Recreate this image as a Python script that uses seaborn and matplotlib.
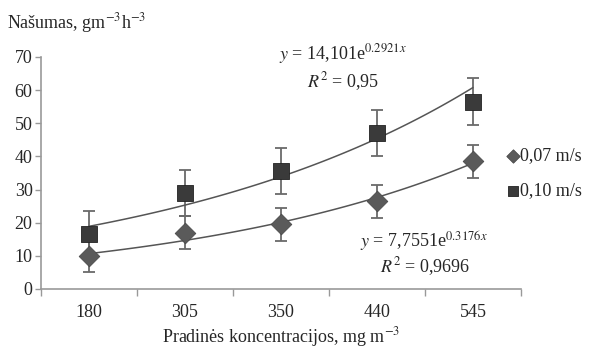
import numpy as np
import pandas as pd
import matplotlib
matplotlib.use("Agg")
import matplotlib.pyplot as plt
import seaborn as sns

# --- data ---
concentrations = ["180", "305", "350", "440", "545"]
v007 = [10.0, 17.0, 19.5, 26.5, 38.5]
v007_err = [5.0, 5.0, 5.0, 5.0, 5.0]
v010 = [16.5, 29.0, 35.5, 47.0, 56.5]
v010_err = [7.0, 7.0, 7.0, 7.0, 7.0]
# exponential trend coefficients (from chart labels)
trend007 = (7.7551, 0.3176)
trend010 = (14.101, 0.2921)

sns.set_theme(style="white")
plt.rcParams["font.family"] = ["Liberation Serif", "DejaVu Serif"]
plt.rcParams["mathtext.fontset"] = "stix"

pos = np.arange(1, len(concentrations) + 1)
df = pd.DataFrame({
    "pos": np.concatenate([pos, pos]),
    "val": v007 + v010,
    "err": v007_err + v010_err,
    "serie": ["0,07 m/s"] * 5 + ["0,10 m/s"] * 5,
})

fig = plt.figure(figsize=(5.92, 3.49), dpi=100)
ax = fig.add_axes([0.069, 0.172, 0.811, 0.665])

# error bars
for s in ["0,07 m/s", "0,10 m/s"]:
    d = df[df.serie == s]
    ax.errorbar(d.pos, d.val, yerr=d.err, fmt="none", ecolor="#6a6a6a",
                elinewidth=1.3, capsize=4.5, capthick=1.3, zorder=2)

# trend lines
xt = np.linspace(1, 5, 100)
for (a, b) in [trend007, trend010]:
    sns.lineplot(x=xt, y=a * np.exp(b * xt), ax=ax, color="#555555",
                 lw=1.1, zorder=3, legend=False)

d7 = df[df.serie == "0,07 m/s"]
d10 = df[df.serie == "0,10 m/s"]
sns.scatterplot(x=d7.pos, y=d7.val, ax=ax, marker="D", s=110, color="#5a5a5a",
                edgecolor="#4a4a4a", linewidth=0.6, zorder=4, label="0,07 m/s")
sns.scatterplot(x=d10.pos, y=d10.val, ax=ax, marker="s", s=140, color="#3a3a3a",
                edgecolor="#222222", linewidth=0.6, zorder=4, label="0,10 m/s")

ax.set_xlim(0.5, 5.5)
ax.set_ylim(0, 70)
ax.set_yticks(range(0, 71, 10))
ax.set_xticks(np.arange(0.5, 5.6, 1.0))
ax.set_xticklabels([])
ax.set_xticks(pos, minor=True)
ax.set_xticklabels(concentrations, minor=True)
ax.tick_params(axis="x", which="major", direction="out", length=5, color="#999999",
               bottom=True, width=1)
ax.tick_params(axis="x", which="minor", length=0, pad=11, labelsize=13)
ax.tick_params(axis="y", direction="out", length=4, color="#999999", left=True,
               width=1, labelsize=13, pad=2)
for sp in ["top", "right"]:
    ax.spines[sp].set_visible(False)
for sp in ["left", "bottom"]:
    ax.spines[sp].set_color("#999999")
    ax.spines[sp].set_linewidth(1.2)
ax.set_xlabel("")
ax.set_ylabel("")

fig.text(0.475, 0.018, "Pradinės koncentracijos, mg m$^{-3}$", ha="center",
         va="baseline", fontsize=13)
fig.text(0.012, 0.935, "Našumas, gm$^{-3}$h$^{-3}$", ha="left", va="center",
         fontsize=13)

ax.text(3.64, 71.0, r"$y$ = 14,101e$^{0.2921x}$", ha="center", va="center",
        fontsize=13, clip_on=False)
ax.text(3.65, 62.5, r"$R^2$ = 0,95", ha="center", va="center", fontsize=13)
ax.text(4.49, 14.2, r"$y$ = 7,7551e$^{0.3176x}$", ha="center", va="center", fontsize=13)
ax.text(4.5, 6.6, r"$R^2$ = 0,9696", ha="center", va="center", fontsize=13)

ax.legend(loc="center left", bbox_to_anchor=(0.845, 0.503), bbox_transform=fig.transFigure,
          frameon=False, handlelength=0.6, handletextpad=0.1, markerscale=0.65,
          labelspacing=1.0, fontsize=13, borderaxespad=0)

fig.savefig("out.png", dpi=100)
